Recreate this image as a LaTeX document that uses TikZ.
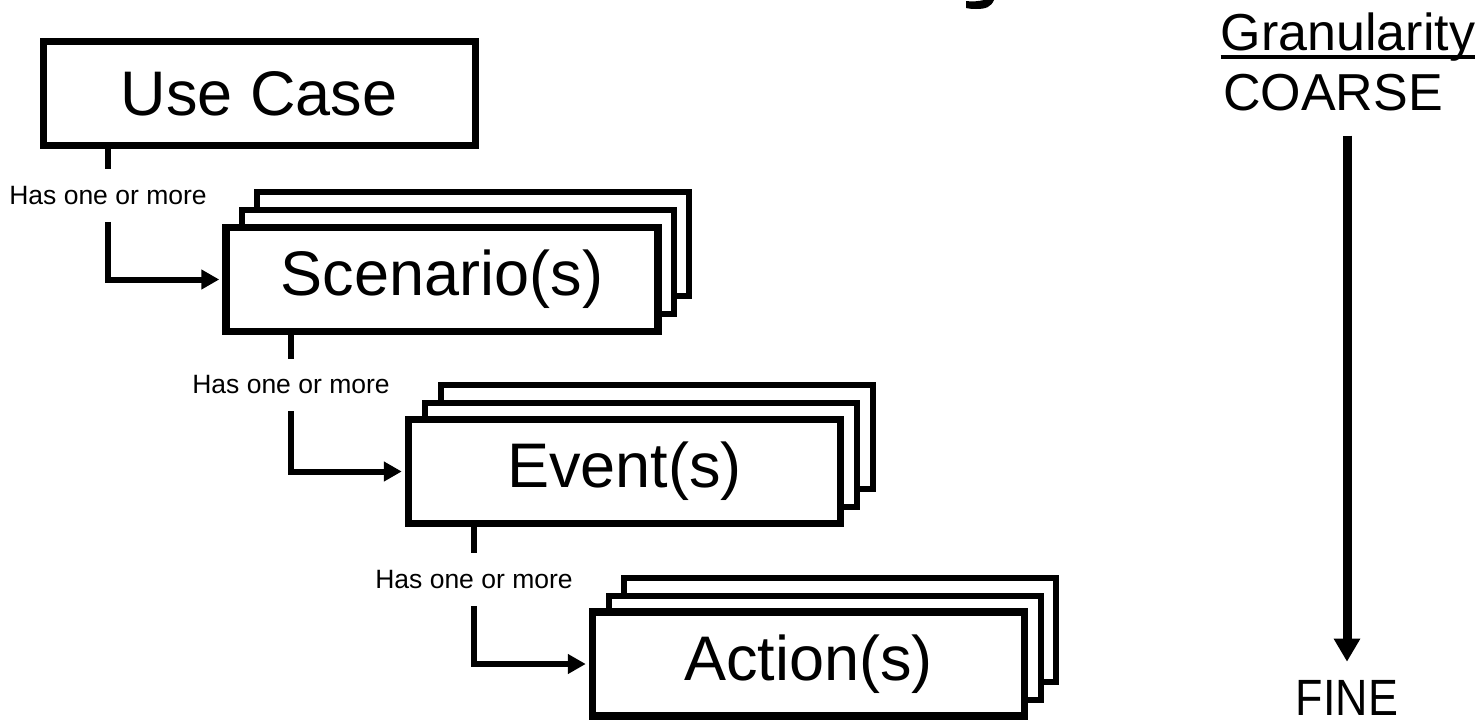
\documentclass[tikz,border=0pt]{standalone}
\usepackage{fontspec}
\setmainfont{Liberation Sans}
\newfontfamily\narrowfont[FakeStretch=0.88]{Liberation Sans}
\usetikzlibrary{arrows.meta}
\tikzset{
	card/.style={draw, fill=white, line width=7.5pt, minimum width=432pt, minimum height=104pt, inner sep=0pt, font=\fontsize{63}{70}\selectfont},
	backcard/.style={card, line width=5.5pt},
	haslbl/.style={inner xsep=0pt, inner ysep=17pt, font=\fontsize{26.5}{30}\selectfont},
	link/.style={line width=6pt, -{Triangle[width=19pt,length=18pt]}, shorten >=3pt},
	grain/.style={inner xsep=0pt, inner ysep=25pt, font=\fontsize{52}{58}\selectfont},
}

\begin{document}
\begin{tikzpicture}[x=1pt, y=-1pt]
		%%%%% START %%%%%
		\useasboundingbox (0,0) rectangle (1484,724);
		
		% cut-off tail of the title
		\fill (984,0) -- (994,0) .. controls (991,7) and (986,9) .. (976,9) .. controls (971,9) and (968,8.5) .. (966,8) -- (966,1) .. controls (972,2) and (980,1) .. (984,0) -- cycle;
		
		\node[card, line width=7pt] (usecase) at (259, 93.5) {Use Case};
		
		\node[backcard] (scenario3) at (473, 244) {};
		\node[backcard] (scenario2) at (458, 262) {};
		\node[card] (scenario) at (442, 279.5) {Scenario(s)};
		
		\node[backcard] (event3) at (657, 437) {};
		\node[backcard] (event2) at (641, 455) {};
		\node[card] (event) at (624.5, 471.5) {Event(s)};
		
		\node[backcard] (action3) at (840, 630) {};
		\node[backcard] (action2) at (825, 648) {};
		\node[card] (action) at (808.5, 664) {Action(s)};
		
		\node[haslbl] (has1) at (108, 195.5) {Has one or more};
		\node[haslbl] (has2) at (291, 385) {Has one or more};
		\node[haslbl] (has3) at (474, 579.5) {Has one or more};
		
		\draw[line width=6pt] (usecase.south -| has1) -- (has1.north);
		\draw[link] (has1.south) |- (scenario.west);
		\draw[line width=6pt] (scenario.south -| has2) -- (has2.north);
		\draw[link] (has2.south) |- (event.west);
		\draw[line width=6pt] (event.south -| has3) -- (has3.north);
		\draw[link] (has3.south) |- (action.west);
		
		% granularity scale
		\node[inner sep=0pt, anchor=base, font=\fontsize{52}{58}\selectfont] (gran) at (1348, 50) {Granularity};
		\draw[line width=4pt] ([yshift=-7pt]gran.base west) -- ([yshift=-7pt]gran.base east);
		\node[grain, anchor=base] (coarse) at (1333, 110) {COARSE};
		\node[grain, anchor=base, inner ysep=18pt, font=\narrowfont\fontsize{51}{58}\selectfont] (fine) at (1347, 715) {FINE};
		\draw[line width=9pt, -{Triangle[width=25pt,length=23pt]}] (coarse.south -| fine) -- (fine.north);
		
		%%%%% END %%%%%
	\end{tikzpicture}
\end{document}
